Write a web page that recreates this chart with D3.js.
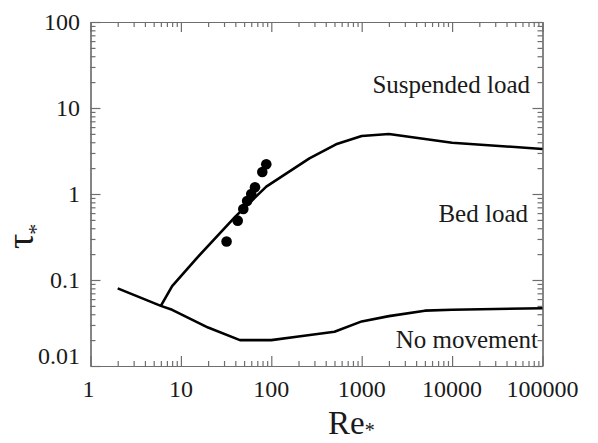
<!DOCTYPE html>
<html><head><meta charset="utf-8">
<script src="https://cdn.jsdelivr.net/npm/d3@7"></script>
<style>
body{margin:0;background:#fff}
svg{display:block}
text{font-family:"Liberation Serif","Times New Roman",serif;fill:#1a1a1a}
</style>
</head><body>
<svg id="c" width="598" height="443"></svg>
<script>
// ---- data ----
const xTicks=[1,10,100,1000,10000,100000];
const xTickLabels=["1","10","100","1000","10000","100000"];
const yTicks=[0.01,0.1,1,10,100];
const yTickLabels=["0.01","0.1","1","10","100"];
// threshold of motion (lower curve)
const thresholdRe=[2,6,8,20,45,100,200,500,1000,2000,5000,10000,100000];
const thresholdTau=[0.08,0.05,0.045,0.028,0.02,0.02,0.022,0.025,0.033,0.038,0.044,0.045,0.047];
// onset of suspension (upper curve)
const suspRe=[6,8,15,40,88,264,520,1000,2000,10000,100000];
const suspTau=[0.05,0.085,0.18,0.545,1.22,2.6,3.78,4.73,4.98,3.95,3.34];
// observations
const obsRe=[32,42.5,49,54,60,66,79.5,88];
const obsTau=[0.28,0.49,0.67,0.83,1.0,1.2,1.8,2.22];
const regionLabels=["Suspended load","Bed load","No movement"];

// ---- drawing ----
const svg=d3.select("#c");
const L=90.5,R=542.5,T=22,B=366;
const x=d3.scaleLog().domain([1,1e5]).range([L,R]);
const y=d3.scaleLog().domain([0.01,100]).range([B,T]);

const minorX=[],minorY=[];
for(let d=1;d<1e5;d*=10) for(let k=2;k<=9;k++) minorX.push(d*k);
for(let d=0.01;d<100;d*=10) for(let k=2;k<=9;k++) minorY.push(+(d*k).toPrecision(3));

const axCol="#6e6e6e";
function styleAxis(g){g.select(".domain").attr("stroke",axCol).attr("stroke-width",1.2);g.selectAll(".tick line").attr("stroke",axCol).attr("stroke-width",1.2);g.selectAll(".tick text").remove();}

// bottom
svg.append("g").attr("transform",`translate(0,${B})`).call(d3.axisBottom(x).tickValues(xTicks).tickSizeInner(-10).tickSizeOuter(0)).call(styleAxis);
svg.append("g").attr("transform",`translate(0,${B})`).call(d3.axisBottom(x).tickValues(minorX).tickSizeInner(-5).tickSizeOuter(0)).call(styleAxis);
// top
svg.append("g").attr("transform",`translate(0,${T})`).call(d3.axisTop(x).tickValues(xTicks).tickSizeInner(-10).tickSizeOuter(0)).call(styleAxis);
svg.append("g").attr("transform",`translate(0,${T})`).call(d3.axisTop(x).tickValues(minorX).tickSizeInner(-5).tickSizeOuter(0)).call(styleAxis);
// left
svg.append("g").attr("transform",`translate(${L},0)`).call(d3.axisLeft(y).tickValues(yTicks).tickSizeInner(-10).tickSizeOuter(0)).call(styleAxis);
svg.append("g").attr("transform",`translate(${L},0)`).call(d3.axisLeft(y).tickValues(minorY).tickSizeInner(-5).tickSizeOuter(0)).call(styleAxis);
// right
svg.append("g").attr("transform",`translate(${R},0)`).call(d3.axisRight(y).tickValues(yTicks).tickSizeInner(-10).tickSizeOuter(0)).call(styleAxis);
svg.append("g").attr("transform",`translate(${R},0)`).call(d3.axisRight(y).tickValues(minorY).tickSizeInner(-5).tickSizeOuter(0)).call(styleAxis);

// tick labels
svg.append("g").selectAll("text").data(xTicks).join("text")
  .attr("x",(d,i)=>x(d)+(i===0?-2:0)).attr("y",397).attr("text-anchor","middle")
  .attr("font-size",24).text((d,i)=>xTickLabels[i]);
svg.append("g").selectAll("text").data(yTicks).join("text")
  .attr("x",80).attr("y",d=>y(d)+(d===0.01?-2:8)).attr("text-anchor","end")
  .attr("font-size",24).text((d,i)=>yTickLabels[i]);

// curves
const line=d3.line().x(d=>x(d[0])).y(d=>y(d[1]));
svg.append("path").datum(thresholdRe.map((r,i)=>[r,thresholdTau[i]]))
  .attr("d",line).attr("fill","none").attr("stroke","#000").attr("stroke-width",2.6).attr("stroke-linejoin","round");
svg.append("path").datum(suspRe.map((r,i)=>[r,suspTau[i]]))
  .attr("d",line).attr("fill","none").attr("stroke","#000").attr("stroke-width",2.6).attr("stroke-linejoin","round");

// points
svg.append("g").selectAll("circle").data(obsRe.map((r,i)=>[r,obsTau[i]])).join("circle")
  .attr("cx",d=>x(d[0])).attr("cy",d=>y(d[1])).attr("r",5.3).attr("fill","#000");

// region labels
const lab=[[530,93],[528,222],[538,348]];
svg.append("g").selectAll("text").data(regionLabels).join("text")
  .attr("x",(d,i)=>lab[i][0]).attr("y",(d,i)=>lab[i][1]).attr("text-anchor","end")
  .attr("font-size",25).text(d=>d);

// axis titles
const xt=svg.append("text").attr("x",328).attr("y",434).attr("font-size",33);
xt.append("tspan").text("Re");
xt.append("tspan").attr("font-size",20).attr("dy",3).text("*");
const yt=svg.append("text").attr("transform","translate(33,249) rotate(-90)").attr("font-size",38);
yt.append("tspan").text("τ");
yt.append("tspan").attr("font-size",22).attr("dy",10).attr("dx",-1).text("*");
</script>
</body></html>
